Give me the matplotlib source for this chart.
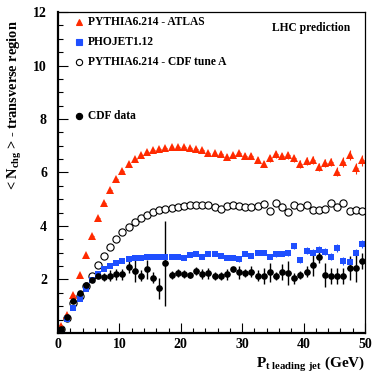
import numpy as np
import matplotlib
matplotlib.use('Agg')
import matplotlib.pyplot as plt

plt.rcParams['font.family'] = 'Liberation Serif'
plt.rcParams['font.weight'] = 'bold'
plt.rcParams['mathtext.fontset'] = 'custom'
plt.rcParams['mathtext.rm'] = 'Liberation Serif:bold'
plt.rcParams['mathtext.bf'] = 'Liberation Serif:bold'
plt.rcParams['mathtext.it'] = 'Liberation Serif:bold'

# bin centres of leading-jet pt (GeV)
pt = np.arange(0.5, 50.0, 1.0)

atlas = [0.25, 0.67, 1.42, 2.16, 2.90, 3.64, 4.29, 4.87, 5.35, 5.74,
         6.07, 6.33, 6.50, 6.65, 6.75, 6.84, 6.88, 6.92, 6.97, 6.97,
         6.95, 6.90, 6.86, 6.85, 6.74, 6.73, 6.70, 6.59, 6.65, 6.72,
         6.62, 6.62, 6.47, 6.32, 6.53, 6.68, 6.62, 6.65, 6.53, 6.32,
         6.43, 6.47, 6.22, 6.35, 6.39, 6.03, 6.40, 6.65, 6.15, 6.45]
atlas_err = [0.01, 0.02, 0.02, 0.03, 0.03, 0.03, 0.04, 0.04, 0.04, 0.05,
             0.05, 0.05, 0.05, 0.05, 0.06, 0.06, 0.06, 0.06, 0.07, 0.07,
             0.07, 0.07, 0.08, 0.08, 0.08, 0.08, 0.09, 0.09, 0.09, 0.10,
             0.10, 0.10, 0.11, 0.11, 0.12, 0.12, 0.12, 0.13, 0.13, 0.14,
             0.14, 0.15, 0.15, 0.16, 0.16, 0.17, 0.18, 0.20, 0.19, 0.22]

phojet = [0.12, 0.52, 0.92, 1.27, 1.63, 1.96, 2.21, 2.38, 2.50, 2.63,
          2.70, 2.75, 2.79, 2.81, 2.83, 2.83, 2.84, 2.85, 2.84, 2.83,
          2.81, 2.93, 2.96, 2.83, 2.95, 2.94, 2.89, 2.81, 2.81, 2.75,
          2.96, 2.89, 3.00, 3.00, 2.85, 2.95, 2.96, 2.98, 3.25, 2.74,
          3.08, 3.00, 3.11, 3.04, 2.85, 3.18, 2.69, 2.64, 2.98, 3.33]
phojet_err = [0.01, 0.01, 0.02, 0.02, 0.02, 0.02, 0.03, 0.03, 0.03, 0.03,
              0.04, 0.04, 0.04, 0.04, 0.05, 0.05, 0.05, 0.05, 0.05, 0.06,
              0.06, 0.06, 0.06, 0.07, 0.07, 0.07, 0.07, 0.08, 0.08, 0.08,
              0.08, 0.09, 0.09, 0.09, 0.10, 0.10, 0.10, 0.11, 0.11, 0.11,
              0.12, 0.12, 0.13, 0.13, 0.13, 0.14, 0.14, 0.15, 0.15, 0.16]

tuneA = [0.15, 0.55, 1.13, 1.37, 1.75, 2.14, 2.54, 2.88, 3.23, 3.51,
         3.76, 3.97, 4.16, 4.31, 4.41, 4.51, 4.60, 4.64, 4.69, 4.72,
         4.75, 4.77, 4.77, 4.78, 4.77, 4.72, 4.63, 4.75, 4.78, 4.74,
         4.72, 4.72, 4.76, 4.82, 4.57, 4.87, 4.72, 4.51, 4.80, 4.70,
         4.77, 4.59, 4.59, 4.63, 4.87, 4.72, 4.85, 4.56, 4.59, 4.57]

cdf = [0.15, 0.60, 1.20, 1.51, 1.80, 1.98, 2.14, 2.10, 2.14, 2.19,
       2.19, 2.48, 2.32, 2.14, 2.38, 2.07, 1.67, 2.60, 2.17, 2.23,
       2.20, 2.17, 2.32, 2.20, 2.23, 2.13, 2.13, 2.19, 2.38, 2.26,
       2.23, 2.29, 2.14, 2.14, 2.26, 2.14, 2.29, 2.23, 2.04, 2.17,
       2.29, 2.54, 2.82, 2.17, 2.14, 2.14, 2.13, 2.42, 2.42, 2.69]
cdf_err = [0.02, 0.03, 0.04, 0.05, 0.06, 0.08, 0.10, 0.15, 0.20, 0.20,
           0.20, 0.25, 0.40, 0.20, 0.35, 0.20, 0.40, 1.60, 0.15, 0.15,
           0.15, 0.12, 0.15, 0.20, 0.20, 0.15, 0.15, 0.20, 0.10, 0.25,
           0.15, 0.20, 0.20, 0.30, 0.35, 0.15, 0.30, 0.45, 0.20, 0.15,
           0.20, 0.40, 0.20, 0.45, 0.30, 0.30, 0.30, 0.45, 0.50, 0.30]

red = '#ff2a00'
blue = '#1f4fff'

fig = plt.figure(figsize=(3.72, 3.77), dpi=100)
ax = fig.add_axes([0.156, 0.117, 0.825, 0.851])

ax.errorbar(pt, atlas, yerr=atlas_err, xerr=0.3, fmt='^', color=red, ms=5.3,
            mew=0, elinewidth=0.8, capsize=0)
ax.plot(pt, tuneA, 'o', mfc='white', mec='black', ms=5.2, mew=0.8)
ax.errorbar(pt, phojet, yerr=phojet_err, xerr=0.3, fmt='s', color=blue, ms=4.3,
            mew=0, elinewidth=0.8, capsize=0)
ax.errorbar(pt, cdf, yerr=cdf_err, xerr=0.4, fmt='o', color='black', ms=4.8,
            mew=0, elinewidth=1.0, capsize=0)

ax.set_xlim(0, 50)
ax.set_ylim(0, 12)
ax.set_xticks(np.arange(0, 51, 10))
ax.set_xticks(np.arange(0, 51, 2), minor=True)
ax.set_yticks(np.arange(2, 13, 2))
ax.set_yticks(np.arange(0, 12.1, 0.5), minor=True)
ax.tick_params(which='both', direction='in', top=False, right=False,
               labelsize=10)
ax.tick_params(which='major', length=7, width=0.8)
ax.tick_params(which='minor', length=3.5, width=0.8)
ax.tick_params(axis='x', pad=4)
ax.tick_params(axis='y', pad=8)
ax.spines['left'].set_linewidth(1.6)
ax.spines['bottom'].set_linewidth(1.6)
ax.spines['top'].set_linewidth(0.9)
ax.spines['right'].set_linewidth(0.9)

ax.set_ylabel(r'< N$_{\mathbf{chg}}$ > - transverse region', fontsize=10.4,
              fontweight='bold')
ax.yaxis.set_label_coords(-0.112, 0.71)
ax.set_xlabel(r'P$_{\mathbf{t\ leading\ jet}}$ (GeV)', fontsize=11,
              fontweight='bold', ha='right')
ax.xaxis.set_label_coords(1.0, -0.07)

# hand-made legend
entries = [('^', red, red, 'PYTHIA6.214 - ATLAS', 0.969),
           ('s', blue, blue, 'PHOJET1.12', 0.907),
           ('o', 'white', 'black', 'PYTHIA6.214 - CDF tune A', 0.844),
           ('o', 'black', 'black', 'CDF data', 0.676)]
for mk, fc, ec, label, yy in entries:
    ax.plot([0.068], [yy], mk, mfc=fc, mec=ec, ms=4.5, mew=0.8,
            transform=ax.transAxes, clip_on=False)
    ax.text(0.098, yy, label, transform=ax.transAxes, fontsize=8.3,
            fontweight='bold', va='center', ha='left')
ax.text(0.824, 0.95, 'LHC prediction', transform=ax.transAxes, fontsize=8.3,
        fontweight='bold', va='center', ha='center')

fig.savefig('out.png', dpi=100)
